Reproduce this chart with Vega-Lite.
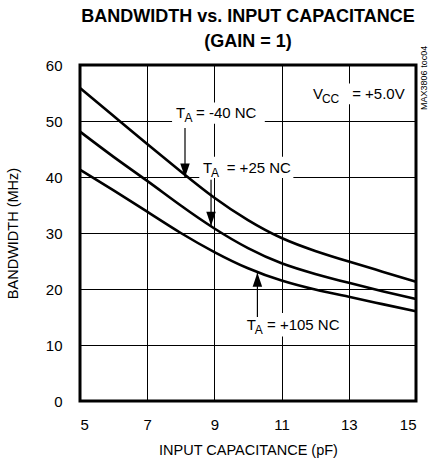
{
  "$schema": "https://vega.github.io/schema/vega-lite/v6.json",
  "width": 336,
  "height": 336,
  "autosize": {"type": "none"},
  "padding": {"left": 80, "top": 65, "right": 14, "bottom": 67},
  "background": "white",
  "config": {
    "font": "Liberation Sans Narrow, Arial Narrow, Liberation Sans, Arial, sans-serif",
    "view": {"stroke": "black", "strokeWidth": 3},
    "axis": {
      "grid": true,
      "gridColor": "black",
      "gridOpacity": 1,
      "gridWidth": 1,
      "ticks": false,
      "domain": false,
      "labelFontSize": 15,
      "labelColor": "black",
      "titleFontSize": 14.5,
      "titleFontWeight": "normal",
      "titleColor": "black"
    }
  },
  "title": {
    "text": ["BANDWIDTH vs. INPUT CAPACITANCE", "(GAIN = 1)"],
    "fontSize": 18,
    "fontWeight": "bold",
    "color": "black",
    "anchor": "middle",
    "lineHeight": 25,
    "offset": -5
  },
  "datasets": {
    "curves": [
      {"cap": 5, "bw": 55.9, "temp": "-40"},
      {"cap": 6, "bw": 50.9, "temp": "-40"},
      {"cap": 7, "bw": 45.9, "temp": "-40"},
      {"cap": 8, "bw": 41.0, "temp": "-40"},
      {"cap": 9, "bw": 36.3, "temp": "-40"},
      {"cap": 10, "bw": 32.3, "temp": "-40"},
      {"cap": 11, "bw": 29.1, "temp": "-40"},
      {"cap": 12, "bw": 26.8, "temp": "-40"},
      {"cap": 13, "bw": 24.9, "temp": "-40"},
      {"cap": 14, "bw": 23.1, "temp": "-40"},
      {"cap": 15, "bw": 21.3, "temp": "-40"},
      {"cap": 5, "bw": 48.1, "temp": "+25"},
      {"cap": 6, "bw": 43.6, "temp": "+25"},
      {"cap": 7, "bw": 39.3, "temp": "+25"},
      {"cap": 8, "bw": 34.9, "temp": "+25"},
      {"cap": 9, "bw": 30.8, "temp": "+25"},
      {"cap": 10, "bw": 27.3, "temp": "+25"},
      {"cap": 11, "bw": 24.6, "temp": "+25"},
      {"cap": 12, "bw": 22.7, "temp": "+25"},
      {"cap": 13, "bw": 21.1, "temp": "+25"},
      {"cap": 14, "bw": 19.6, "temp": "+25"},
      {"cap": 15, "bw": 18.2, "temp": "+25"},
      {"cap": 5, "bw": 41.3, "temp": "+105"},
      {"cap": 6, "bw": 37.6, "temp": "+105"},
      {"cap": 7, "bw": 33.8, "temp": "+105"},
      {"cap": 8, "bw": 30.0, "temp": "+105"},
      {"cap": 9, "bw": 26.6, "temp": "+105"},
      {"cap": 10, "bw": 23.7, "temp": "+105"},
      {"cap": 11, "bw": 21.5, "temp": "+105"},
      {"cap": 12, "bw": 19.9, "temp": "+105"},
      {"cap": 13, "bw": 18.6, "temp": "+105"},
      {"cap": 14, "bw": 17.3, "temp": "+105"},
      {"cap": 15, "bw": 16.0, "temp": "+105"}
    ],
    "boxes": [
      {"x1": 7.74, "x2": 10.5, "y1": 49.5, "y2": 53.3},
      {"x1": 8.55, "x2": 11.35, "y1": 39.8, "y2": 43.6},
      {"x1": 9.85, "x2": 12.9, "y1": 11.5, "y2": 15.7},
      {"x1": 11.8, "x2": 14.8, "y1": 53.0, "y2": 56.7}
    ],
    "arrows": [
      {"ax": 8.125, "y0": 48.75, "tip": 39.9, "dir": "down"},
      {"ax": 8.9, "y0": 39.5, "tip": 31.3, "dir": "down"},
      {"ax": 10.28, "y0": 15.0, "tip": 22.9, "dir": "up"}
    ],
    "mainText": [
      {"tx": 7.857, "ty": 51.43, "t": "T"},
      {"tx": 8.452, "ty": 51.43, "t": "= -40 NC"},
      {"tx": 8.66, "ty": 41.6, "t": "T"},
      {"tx": 9.366, "ty": 41.6, "t": "= +25 NC"},
      {"tx": 9.96, "ty": 13.57, "t": "T"},
      {"tx": 10.565, "ty": 13.57, "t": "= +105 NC"},
      {"tx": 11.935, "ty": 54.8, "t": "V"},
      {"tx": 13.1, "ty": 54.8, "t": "= +5.0V"}
    ],
    "subText": [
      {"tx": 8.11, "ty": 51.43, "t": "A"},
      {"tx": 8.899, "ty": 41.6, "t": "A"},
      {"tx": 10.2, "ty": 13.57, "t": "A"},
      {"tx": 12.2, "ty": 54.8, "t": "CC"}
    ],
    "note": [
      {"tx": 15.24, "ty": 57.7, "t": "MAX3806 toc04"}
    ]
  },
  "layer": [
    {
      "data": {"name": "boxes"},
      "mark": {"type": "rect", "fill": "white", "stroke": null},
      "encoding": {
        "x": {"field": "x1", "type": "quantitative", "scale": {"domain": [5, 15], "nice": false},
              "axis": {"values": [5, 7, 9, 11, 13, 15], "title": "INPUT CAPACITANCE (pF)", "labelPadding": 16, "titlePadding": 11}},
        "x2": {"field": "x2"},
        "y": {"field": "y1", "type": "quantitative", "scale": {"domain": [0, 60], "nice": false},
              "axis": {"values": [0, 10, 20, 30, 40, 50, 60], "title": "BANDWIDTH (MHz)", "labelPadding": 18, "titlePadding": 25}},
        "y2": {"field": "y2"}
      }
    },
    {
      "data": {"name": "curves"},
      "mark": {"type": "line", "color": "black", "strokeWidth": 2.6, "interpolate": "natural"},
      "encoding": {
        "x": {"field": "cap", "type": "quantitative"},
        "y": {"field": "bw", "type": "quantitative"},
        "detail": {"field": "temp"}
      }
    },
    {
      "data": {"name": "arrows"},
      "mark": {"type": "rule", "color": "black", "strokeWidth": 1.2},
      "encoding": {
        "x": {"field": "ax", "type": "quantitative"},
        "y": {"field": "y0", "type": "quantitative"},
        "y2": {"field": "tip"}
      }
    },
    {
      "data": {"name": "arrows"},
      "mark": {"type": "point", "filled": true, "color": "black", "opacity": 1, "size": 784, "strokeWidth": 0},
      "encoding": {
        "x": {"field": "ax", "type": "quantitative"},
        "y": {"field": "tip", "type": "quantitative"},
        "shape": {"field": "dir", "type": "nominal",
                  "scale": {"domain": ["down", "up"], "range": ["M-0.34,-1L0.34,-1L0,0Z", "M-0.34,1L0.34,1L0,0Z"]},
                  "legend": null}
      }
    },
    {
      "data": {"name": "mainText"},
      "mark": {"type": "text", "align": "left", "baseline": "middle", "fontSize": 15, "color": "black"},
      "encoding": {
        "x": {"field": "tx", "type": "quantitative"},
        "y": {"field": "ty", "type": "quantitative"},
        "text": {"field": "t"}
      }
    },
    {
      "data": {"name": "subText"},
      "mark": {"type": "text", "align": "left", "baseline": "middle", "fontSize": 12, "dy": 5, "color": "black"},
      "encoding": {
        "x": {"field": "tx", "type": "quantitative"},
        "y": {"field": "ty", "type": "quantitative"},
        "text": {"field": "t"}
      }
    },
    {
      "data": {"name": "note"},
      "mark": {"type": "text", "align": "center", "baseline": "middle", "fontSize": 9, "angle": 270, "color": "black"},
      "encoding": {
        "x": {"field": "tx", "type": "quantitative"},
        "y": {"field": "ty", "type": "quantitative"},
        "text": {"field": "t"}
      }
    }
  ]
}
